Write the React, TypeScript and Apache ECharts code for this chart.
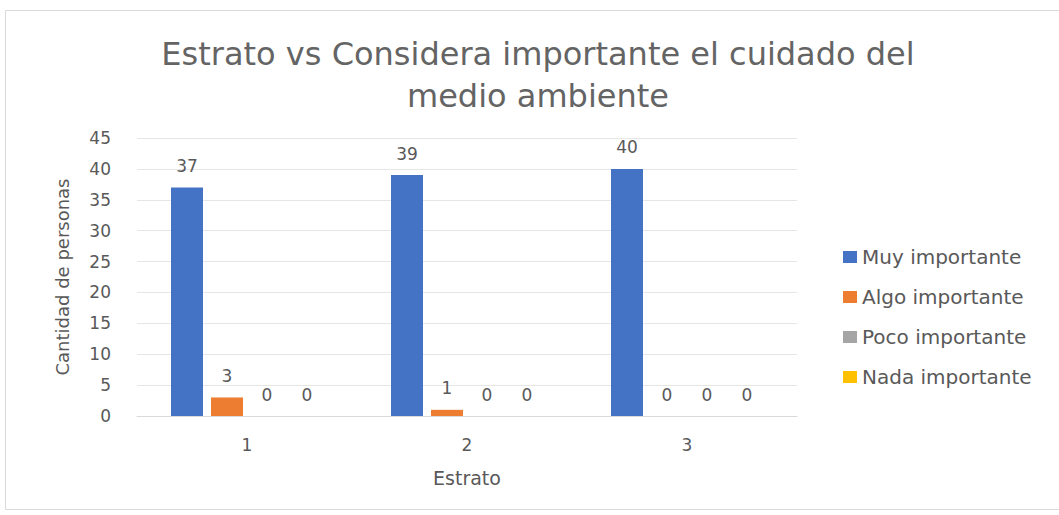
import React, { useEffect, useRef } from "react";
import * as echarts from "echarts";

const categories = ["1", "2", "3"];
const seriesNames = ["Muy importante", "Algo importante", "Poco importante", "Nada importante"];
const muyImportante = [37, 39, 40];
const algoImportante = [3, 1, 0];
const pocoImportante = [0, 0, 0];
const nadaImportante = [0, 0, 0];
const colors = ["#4472C4", "#ED7D31", "#A5A5A5", "#FFC000"];
const titleText = "Estrato vs Considera importante el cuidado del\nmedio ambiente";

export default function App() {
  const ref = useRef<HTMLDivElement>(null);
  useEffect(() => {
    if (!ref.current) return;
    const chart = echarts.init(ref.current, undefined, { renderer: "svg" });
    const font = "'DejaVu Sans', 'Open Sans', sans-serif";
    const values = [muyImportante, algoImportante, pocoImportante, nadaImportante];
    chart.setOption({
      animation: false,
      backgroundColor: "#ffffff",
      color: colors,
      textStyle: { fontFamily: font, color: "#595959" },
      graphic: [
        {
          type: "rect",
          shape: { x: 5.5, y: 10.5, width: 1060, height: 499 },
          style: { fill: "none", stroke: "#d9d9d9", lineWidth: 1 },
          silent: true,
        },
      ],
      title: {
        text: titleText,
        left: 533,
        top: 28,
        textAlign: "center",
        textStyle: {
          fontFamily: font,
          fontSize: 32,
          fontWeight: "normal",
          color: "#646464",
          lineHeight: 42,
        },
      },
      legend: {
        orient: "vertical",
        left: 838,
        top: 242,
        itemWidth: 14,
        itemHeight: 12,
        itemGap: 20,
        icon: "rect",
        textStyle: { fontFamily: font, fontSize: 20, color: "#595959" },
        data: seriesNames,
      },
      grid: { left: 137, right: 262, top: 138, bottom: 99, containLabel: false },
      xAxis: {
        type: "category",
        data: categories,
        name: "Estrato",
        nameLocation: "middle",
        nameGap: 52,
        nameTextStyle: { fontFamily: font, fontSize: 19, color: "#595959" },
        axisLine: { lineStyle: { color: "#d9d9d9" } },
        axisTick: { show: false },
        axisLabel: { fontFamily: font, fontSize: 17, color: "#595959", margin: 20 },
      },
      yAxis: {
        type: "value",
        min: 0,
        max: 45,
        interval: 5,
        name: "Cantidad de personas",
        nameLocation: "middle",
        nameGap: 66,
        nameTextStyle: { fontFamily: font, fontSize: 18, color: "#595959" },
        axisLine: { show: false },
        axisTick: { show: false },
        axisLabel: { fontFamily: font, fontSize: 17, color: "#595959", margin: 26 },
        splitLine: { lineStyle: { color: "#e6e6e6" } },
      },
      series: seriesNames.map((name, i) => ({
        name,
        type: "bar",
        data: values[i],
        barWidth: 32,
        barGap: "25%",
        itemStyle: { color: colors[i] },
        label: {
          show: true,
          position: "top",
          distance: 13,
          fontFamily: font,
          fontSize: 17,
          color: "#595959",
        },
      })),
    });
    return () => chart.dispose();
  }, []);
  return (
    <div
      ref={ref}
      style={{ position: "fixed", left: 0, top: 0, width: 1059, height: 515 }}
    />
  );
}
